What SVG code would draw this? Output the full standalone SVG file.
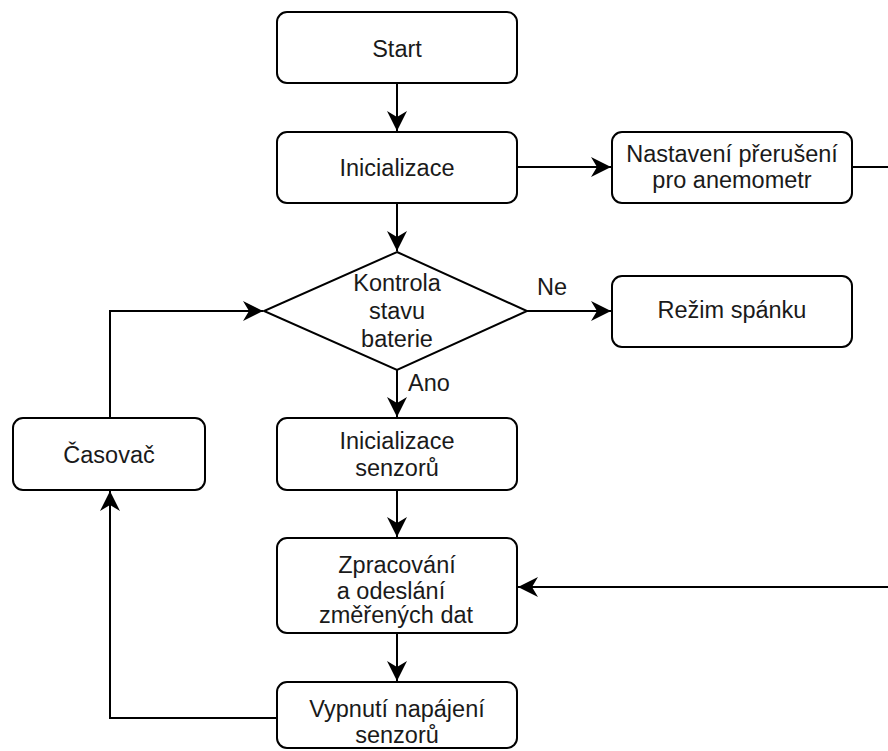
<svg xmlns="http://www.w3.org/2000/svg" width="888" height="751" viewBox="0 0 888 751">
<style>
.box{fill:#fff;stroke:#000;stroke-width:2}
.t{font-family:"Liberation Sans",Arial,sans-serif;font-size:23.5px;fill:#1a1a1a;text-anchor:middle}
.l{font-family:"Liberation Sans",Arial,sans-serif;font-size:23.5px;fill:#1a1a1a}
.c{fill:none;stroke:#000;stroke-width:2}
</style>
<defs>
<marker id="arr" markerUnits="userSpaceOnUse" markerWidth="24" markerHeight="24" refX="20" refY="10" orient="auto">
<path d="M0,0 L20,10 L0,20 L6,10 Z" fill="#000"/>
</marker>
</defs>
<rect width="888" height="751" fill="#fff"/>
<g id="connectors">
<path class="c" d="M397,83 V131" marker-end="url(#arr)"/>
<path class="c" d="M517,167 H611" marker-end="url(#arr)"/>
<path class="c" d="M852,167 H890"/>
<path class="c" d="M397,203 V251" marker-end="url(#arr)"/>
<path class="c" d="M527,311 H611" marker-end="url(#arr)"/>
<path class="c" d="M397,370 V417" marker-end="url(#arr)"/>
<path class="c" d="M397,490 V537" marker-end="url(#arr)"/>
<path class="c" d="M397,633 V681" marker-end="url(#arr)"/>
<path class="c" d="M890,587 H518" marker-end="url(#arr)"/>
<path class="c" d="M277,718 H110 V491" marker-end="url(#arr)"/>
<path class="c" d="M110,418 V311 H263" marker-end="url(#arr)"/>
<text class="l" x="537" y="295">Ne</text>
<text class="l" x="408" y="391">Ano</text>
</g>
<g id="start">
<rect class="box" x="277" y="12" width="240" height="71" rx="10"/>
<text class="t" x="397" y="57">Start</text>
</g>
<g id="inicializace">
<rect class="box" x="277" y="132" width="240" height="71" rx="10"/>
<text class="t" x="397" y="176">Inicializace</text>
</g>
<g id="nastaveni">
<rect class="box" x="612" y="132" width="240" height="71" rx="10"/>
<text class="t" x="732" y="162">Nastavení přerušení</text>
<text class="t" x="732" y="188">pro anemometr</text>
</g>
<g id="kontrola">
<path class="box" d="M397,252 L527,311 L397,370 L264,311 Z"/>
<text class="t" x="397" y="291">Kontrola</text>
<text class="t" x="397" y="319">stavu</text>
<text class="t" x="397" y="347">baterie</text>
</g>
<g id="rezim">
<rect class="box" x="612" y="276" width="240" height="71" rx="10"/>
<text class="t" x="732" y="318">Režim spánku</text>
</g>
<g id="casovac">
<rect class="box" x="13" y="418" width="192" height="72" rx="10"/>
<text class="t" x="109" y="463">Časovač</text>
</g>
<g id="init-senzoru">
<rect class="box" x="277" y="418" width="240" height="72" rx="10"/>
<text class="t" x="397" y="449">Inicializace</text>
<text class="t" x="397" y="476">senzorů</text>
</g>
<g id="zpracovani">
<rect class="box" x="277" y="538" width="240" height="95" rx="10"/>
<text class="t" x="397" y="573">Zpracování</text>
<text class="t" x="391" y="599">a odeslání</text>
<text class="t" x="396" y="623">změřených dat</text>
</g>
<g id="vypnuti">
<rect class="box" x="277" y="682" width="240" height="66" rx="10"/>
<text class="t" x="397" y="717">Vypnutí napájení</text>
<text class="t" x="397" y="743">senzorů</text>
</g>
</svg>
